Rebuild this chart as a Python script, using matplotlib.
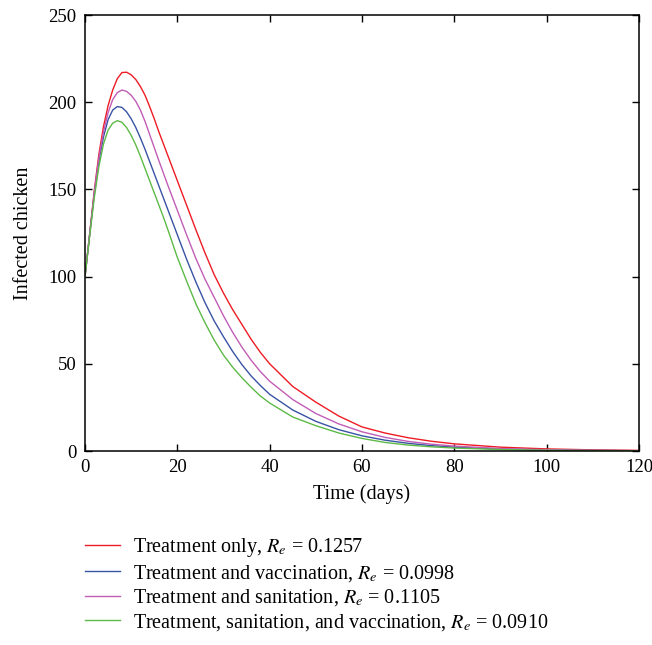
import matplotlib
matplotlib.use("Agg")
import matplotlib.pyplot as plt

days = [0, 1, 2, 3, 4, 5, 6, 7, 8, 9, 10, 11, 12, 13, 14, 15, 16, 17, 18,
        20, 22, 24, 26, 28, 30, 32, 34, 36, 38, 40,
        45, 50, 55, 60, 65, 70, 75, 80,
        90, 100, 110, 120]

treatment_only = [100, 124, 149, 170, 186, 198, 207, 213.5, 217, 217.2, 215.7, 213, 209, 204, 197.5, 190.5, 183, 176, 169,
                  155, 141, 127, 113.5, 101, 90.5, 81, 72.5, 64, 56.5, 50,
                  37, 28, 20, 13.8, 10.3, 7.6, 5.6, 4.1,
                  2.2, 1.2, 0.65, 0.35]

treat_vacc = [100, 124, 147, 166, 180, 190, 195.5, 197.5, 197, 194.5, 190.5, 185.5, 179.5, 173, 166, 159, 152, 145, 138,
              124, 110, 97, 85, 74.5, 65.5, 57, 49.5, 43, 37.5, 32.5,
              23.5, 17, 12.2, 8.7, 6.2, 4.4, 3.1, 2.2,
              1.1, 0.55, 0.28, 0.14]

treat_sanit = [100, 124, 148, 168, 183, 194, 201.5, 205.5, 207, 206.2, 204, 200.5, 195.5, 189, 181.5, 174, 166.5, 159.2, 152,
               138, 124, 110.5, 98.5, 88, 77.5, 68, 59.5, 52, 45.5, 40,
               29.5, 21.5, 15.5, 11, 7.8, 5.5, 3.9, 2.8,
               1.4, 0.75, 0.4, 0.2]

treat_sanit_vacc = [100, 123, 145, 163, 176, 184, 188, 189.4, 188.5, 185.5, 181, 175.5, 169, 162, 155, 148, 141, 134, 126.5,
                    111, 97.5, 84.5, 73.5, 63.5, 55, 48, 42, 36.5, 31.5, 27.5,
                    19.5, 14.5, 10.3, 7.2, 4.9, 3.4, 2.4, 1.7,
                    0.85, 0.42, 0.21, 0.1]

labels = [r"Treatment only, $R_e$ = 0.1257",
          r"Treatment and vaccination, $R_e$ = 0.0998",
          r"Treatment and sanitation, $R_e$ = 0.1105",
          r"Treatment, sanitation, and vaccination, $R_e$ = 0.0910"]
colors = ["#ed1c24", "#3953a4", "#c15db6", "#5dba47"]

xticks = [0, 20, 40, 60, 80, 100, 120]
yticks = [0, 50, 100, 150, 200, 250]

FS = 14.5
TFS = 13.5
plt.rcParams["font.family"] = ["Liberation Serif", "DejaVu Serif"]
plt.rcParams["mathtext.fontset"] = "stix"
plt.rcParams["font.size"] = FS

fig = plt.figure(figsize=(6.52, 6.45), dpi=100)
ax = fig.add_axes([85 / 652, 1 - 451 / 645, (639 - 85) / 652, (451 - 15) / 645])

series = [treatment_only, treat_vacc, treat_sanit, treat_sanit_vacc]
for ys, lab, c in zip(series, labels, colors):
    ax.plot(days, ys, color=c, lw=1.0, label=lab)

ax.set_xlim(0, 120)
ax.set_ylim(0, 250)
ax.set_xticks(xticks)
ax.set_yticks(yticks)
ax.tick_params(direction="in", top=True, right=True, length=5, width=1.0, labelsize=TFS, pad=6)
for s in ax.spines.values():
    s.set_linewidth(1.1)
ax.set_xlabel("Time (days)", fontsize=FS, labelpad=6)
ax.set_ylabel("Infected chicken", fontsize=FS, labelpad=11)

handles, labs = ax.get_legend_handles_labels()
fig.legend(handles, labs, loc="upper left", bbox_to_anchor=(85 / 652, 1 - 536 / 645),
           frameon=False, fontsize=FS, handlelength=1.75, handletextpad=0.65,
           labelspacing=0.18, borderaxespad=0, borderpad=0)

fig.savefig("out.png", dpi=100)
